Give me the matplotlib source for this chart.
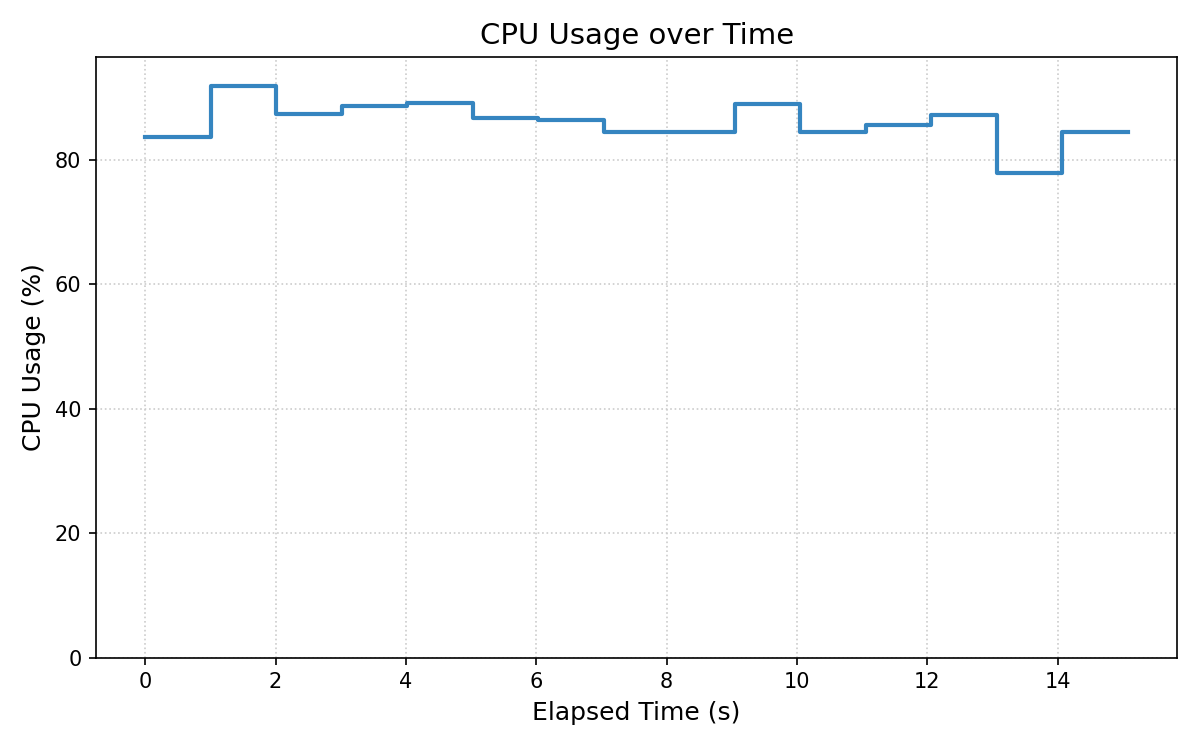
import matplotlib
matplotlib.use("Agg")
import matplotlib.pyplot as plt

# elapsed time (s) of each sample and the cpu usage read at that time
elapsed = [0.0, 1.01, 2.01, 3.02, 4.02, 5.03, 6.03, 7.04, 8.04, 9.05,
           10.05, 11.06, 12.06, 13.07, 14.07, 15.08]
cpu = [83.6, 91.9, 87.3, 88.7, 89.1, 86.7, 86.4, 84.5, 84.5, 89.0,
       84.5, 85.6, 87.2, 77.9, 84.5, 84.5]

fig, ax = plt.subplots(figsize=(8, 5), dpi=150)
ax.step(elapsed, cpu, where="post", color="#3585c0", linewidth=2)

ax.set_ylim(0, max(cpu) * 1.05)
ax.set_title("CPU Usage over Time", fontsize=14)
ax.set_xlabel("Elapsed Time (s)", fontsize=12)
ax.set_ylabel("CPU Usage (%)", fontsize=12)
ax.tick_params(labelsize=10)
ax.grid(True, linestyle=":", color="#cccccc", linewidth=0.8)

fig.subplots_adjust(left=0.08, right=0.981, top=0.924, bottom=0.123)
fig.savefig("out.png")
